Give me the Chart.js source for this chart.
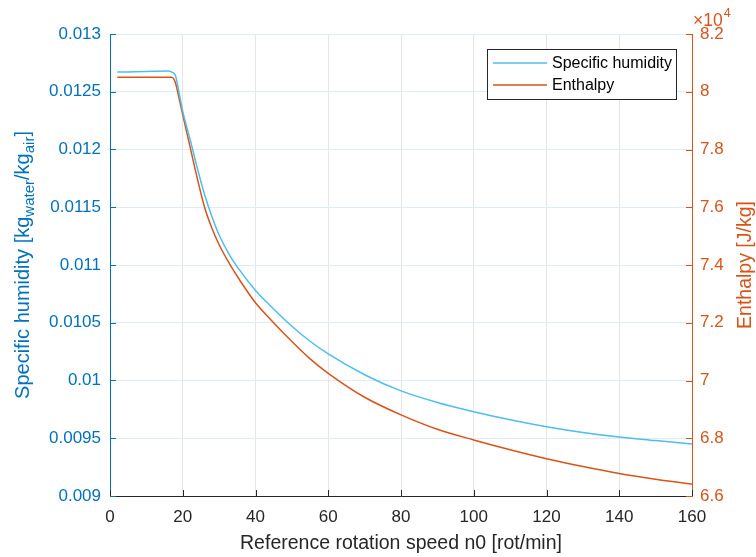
<!DOCTYPE html>
<html>
<head>
<meta charset="utf-8">
<script src="https://cdn.jsdelivr.net/npm/chart.js@4.4.1/dist/chart.umd.min.js"></script>
<style>
  html, body { margin: 0; padding: 0; background: #fff; }
  #wrap { width: 756px; height: 557px; }
</style>
</head>
<body>
<div id="wrap"><canvas id="chart" width="756" height="557"></canvas></div>
<script>
// --- data ---
const speed = [2, 16, 17, 18, 19, 20, 22, 24, 26, 28, 30, 33, 36, 40, 44, 50, 55, 60, 70, 80, 90, 100, 110, 120, 130, 140, 150, 160];
const humidity = [0.01267, 0.01268, 0.01267, 0.01264, 0.01249, 0.01233, 0.01209, 0.01184, 0.01161, 0.01142, 0.01126, 0.01108, 0.01094, 0.01078, 0.01065, 0.01047, 0.01034, 0.01023, 0.01005, 0.00991, 0.00981, 0.00973, 0.00966, 0.00960, 0.00955, 0.00951, 0.00948, 0.00945];
const enthalpy = [80500, 80500, 80500, 80300, 79760, 79200, 78100, 77000, 76000, 75280, 74700, 74010, 73410, 72690, 72130, 71350, 70750, 70250, 69420, 68810, 68310, 67940, 67600, 67290, 67020, 66780, 66580, 66410];

const speedTicks = [0, 20, 40, 60, 80, 100, 120, 140, 160];
const humidityTicks = [0.009, 0.0095, 0.01, 0.0105, 0.011, 0.0115, 0.012, 0.0125, 0.013];
const enthalpyTicks = [66000, 68000, 70000, 72000, 74000, 76000, 78000, 80000, 82000];

const BLUE_AX = '#0072BD';
const RED_AX = '#D95319';
const BLUE_LINE = '#4DBEEE';
const FONT = "'Liberation Sans', Arial, Helvetica, sans-serif";

Chart.defaults.font.family = FONT;

const setTicks = (arr) => (scale) => { scale.ticks = arr.map(v => ({ value: v })); };

// inward ticks, axis titles, legend box (matlab look)
const matlabDecor = {
  id: 'matlabDecor',
  afterDraw(chart) {
    const { ctx, chartArea: a, scales } = chart;
    ctx.save();
    ctx.lineWidth = 1;

    // ticks pointing into the plot
    ctx.strokeStyle = '#262626';
    speedTicks.forEach(v => {
      const px = Math.round(scales.x.getPixelForValue(v)) + 0.5;
      ctx.beginPath(); ctx.moveTo(px, a.bottom); ctx.lineTo(px, a.bottom - 6); ctx.stroke();
    });
    ctx.strokeStyle = BLUE_AX;
    humidityTicks.forEach(v => {
      const py = Math.round(scales.y.getPixelForValue(v)) + 0.5;
      ctx.beginPath(); ctx.moveTo(a.left, py); ctx.lineTo(a.left + 6, py); ctx.stroke();
    });
    ctx.strokeStyle = RED_AX;
    enthalpyTicks.forEach(v => {
      const py = Math.round(scales.y2.getPixelForValue(v)) + 0.5;
      ctx.beginPath(); ctx.moveTo(a.right, py); ctx.lineTo(a.right - 6, py); ctx.stroke();
    });

    const midY = (a.top + a.bottom) / 2;

    // x title
    ctx.fillStyle = '#262626';
    ctx.font = '19.5px ' + FONT;
    ctx.textAlign = 'center';
    ctx.textBaseline = 'alphabetic';
    ctx.fillText('Reference rotation speed n0 [rot/min]', (a.left + a.right) / 2, 549);

    // left title with subscripts
    const parts = [
      { t: 'Specific humidity [kg', sub: false },
      { t: 'water', sub: true },
      { t: '/kg', sub: false },
      { t: 'air', sub: true },
      { t: ']', sub: false }
    ];
    const mainFont = '20px ' + FONT, subFont = '15px ' + FONT;
    let total = 0;
    parts.forEach(p => { ctx.font = p.sub ? subFont : mainFont; p.w = ctx.measureText(p.t).width; total += p.w; });
    ctx.save();
    ctx.translate(29, midY);
    ctx.rotate(-Math.PI / 2);
    ctx.fillStyle = BLUE_AX;
    ctx.textAlign = 'left';
    let cx = -total / 2;
    parts.forEach(p => {
      ctx.font = p.sub ? subFont : mainFont;
      ctx.fillText(p.t, cx, p.sub ? 5 : 0);
      cx += p.w;
    });
    ctx.restore();

    // right title
    ctx.save();
    ctx.translate(751, midY);
    ctx.rotate(-Math.PI / 2);
    ctx.fillStyle = RED_AX;
    ctx.font = '19.5px ' + FONT;
    ctx.textAlign = 'center';
    ctx.fillText('Enthalpy [J/kg]', 0, 0);
    ctx.restore();

    // exponent label
    ctx.fillStyle = RED_AX;
    ctx.textAlign = 'left';
    ctx.font = '17.5px ' + FONT;
    ctx.fillText('\u00d710', 693, 26);
    const w10 = ctx.measureText('\u00d710').width;
    ctx.font = '12.5px ' + FONT;
    ctx.fillText('4', 693 + w10 + 1, 17);

    // legend
    ctx.fillStyle = '#ffffff';
    ctx.fillRect(487.5, 49.5, 189, 50);
    ctx.strokeStyle = '#262626';
    ctx.strokeRect(487.5, 49.5, 189, 50);
    const rows = [{ y: 63, ds: chart.data.datasets[0] }, { y: 85, ds: chart.data.datasets[1] }];
    rows.forEach(r => {
      ctx.strokeStyle = r.ds.borderColor;
      ctx.lineWidth = 1.5;
      ctx.beginPath(); ctx.moveTo(493, r.y); ctx.lineTo(547, r.y); ctx.stroke();
      ctx.fillStyle = '#000';
      ctx.font = '16px ' + FONT;
      ctx.textBaseline = 'middle';
      ctx.fillText(r.ds.label, 552, r.y + 1);
    });
    ctx.restore();
  }
};

new Chart(document.getElementById('chart'), {
  type: 'line',
  data: {
    datasets: [
      {
        label: 'Specific humidity',
        data: speed.map((x, i) => ({ x: x, y: humidity[i] })),
        borderColor: BLUE_LINE,
        borderWidth: 1.5,
        pointRadius: 0,
        cubicInterpolationMode: 'monotone',
        yAxisID: 'y'
      },
      {
        label: 'Enthalpy',
        data: speed.map((x, i) => ({ x: x, y: enthalpy[i] })),
        borderColor: RED_AX,
        borderWidth: 1.5,
        pointRadius: 0,
        cubicInterpolationMode: 'monotone',
        yAxisID: 'y2'
      }
    ]
  },
  options: {
    responsive: false,
    animation: false,
    layout: { padding: { top: 34, left: 0, right: 0, bottom: 0 } },
    plugins: { legend: { display: false }, tooltip: { enabled: false } },
    scales: {
      x: {
        type: 'linear',
        position: 'bottom',
        min: 0, max: 160,
        afterBuildTicks: setTicks(speedTicks),
        afterFit: s => { s.height = 61; },
        grid: { color: '#e6e6e6', drawTicks: false },
        border: { color: '#262626', width: 1 },
        ticks: { color: '#262626', font: { size: 17 }, padding: 11, maxRotation: 0, autoSkip: false }
      },
      y: {
        type: 'linear',
        position: 'left',
        min: 0.009, max: 0.013,
        afterBuildTicks: setTicks(humidityTicks),
        afterFit: s => { s.width = 110; },
        grid: { color: '#e1ebf4', drawTicks: false },
        border: { color: BLUE_AX, width: 1 },
        ticks: { color: BLUE_AX, font: { size: 17 }, padding: 9, autoSkip: false, callback: v => String(v) }
      },
      y2: {
        type: 'linear',
        position: 'right',
        min: 66000, max: 82000,
        afterBuildTicks: setTicks(enthalpyTicks),
        afterFit: s => { s.width = 64; },
        grid: { drawOnChartArea: false, drawTicks: false },
        border: { color: RED_AX, width: 1 },
        ticks: { color: RED_AX, font: { size: 17 }, padding: 8, autoSkip: false, callback: v => String(v / 1e4) }
      }
    }
  },
  plugins: [matlabDecor]
});
</script>
</body>
</html>
